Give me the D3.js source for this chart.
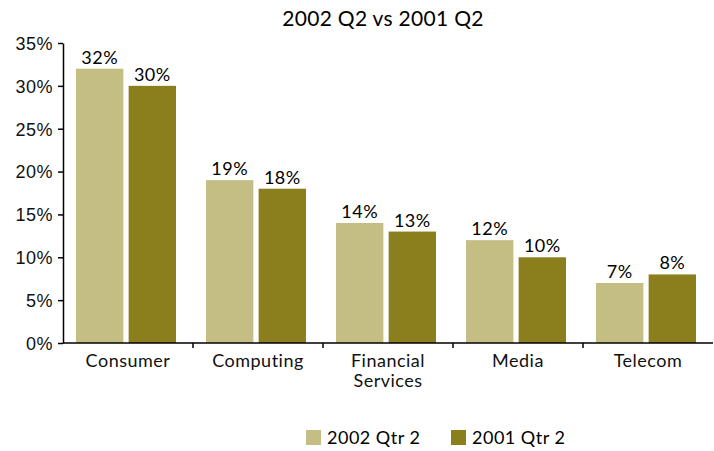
<!DOCTYPE html>
<html>
<head>
<meta charset="utf-8">
<script src="https://cdn.jsdelivr.net/npm/d3@7"></script>
<style>
  body { margin: 0; background: #fff; }
  svg { font-family: Lato, 'Noto Sans', sans-serif; }
  .axis path, .axis line { stroke: #000; stroke-width: 1.5; }
  .axis text { font-size: 18px; fill: #111; letter-spacing: 0.5px; }
  .val, .leg { font-size: 18px; letter-spacing: 0.5px; }
</style>
</head>
<body>
<div id="chart"></div>
<script>
var categories = ['Consumer', 'Computing', 'Financial Services', 'Media', 'Telecom']
var seriesNames = ['2002 Qtr 2', '2001 Qtr 2']
var q2002 = [32, 19, 14, 12, 7]
var q2001 = [30, 18, 13, 10, 8]
var yTicks = [0, 5, 10, 15, 20, 25, 30, 35]
var colors = ['#c5be84', '#8b7e1c']

var W = 714, H = 451
var margin = { top: 43, right: 1, bottom: 108, left: 63 }
var w = W - margin.left - margin.right
var h = H - margin.top - margin.bottom

var svg = d3.select('#chart').append('svg')
  .attr('width', W)
  .attr('height', H)

svg.append('text')
  .attr('x', 383)
  .attr('y', 26)
  .attr('text-anchor', 'middle')
  .style('font-size', '21px')
  .style('letter-spacing', '0.3px')
  .text('2002 Q2 vs 2001 Q2')

var g = svg.append('g')
  .attr('transform', 'translate(' + margin.left + ',' + margin.top + ')')

var x = d3.scaleBand().domain(categories).range([0, w])
var x1 = d3.scaleBand().domain(seriesNames).range([13, 113]).paddingInner(0.1)
var y = d3.scaleLinear().domain([0, 35]).range([h, 0])

var rows = categories.map(function (c, i) {
  return { cat: c, vals: [q2002[i], q2001[i]] }
})

var groups = g.selectAll('g.cat').data(rows).enter().append('g')
  .attr('class', 'cat')
  .attr('transform', function (d) { return 'translate(' + x(d.cat) + ',0)' })

groups.selectAll('rect').data(function (d) { return d.vals }).enter().append('rect')
  .attr('x', function (d, i) { return x1(seriesNames[i]) })
  .attr('y', function (d) { return y(d) })
  .attr('width', x1.bandwidth())
  .attr('height', function (d) { return h - y(d) })
  .attr('fill', function (d, i) { return colors[i] })

groups.selectAll('text.val').data(function (d) { return d.vals }).enter().append('text')
  .attr('class', 'val')
  .attr('x', function (d, i) { return x1(seriesNames[i]) + x1.bandwidth() / 2 })
  .attr('y', function (d) { return y(d) - 5 })
  .attr('text-anchor', 'middle')
  .text(function (d) { return d + '%' })

// y axis
var yAxis = g.append('g').attr('class', 'y axis')
  .call(d3.axisLeft(y).tickValues(yTicks).tickSize(5).tickSizeOuter(0)
    .tickFormat(function (d) { return d + '%' }))
yAxis.selectAll('text').attr('x', -10).attr('dy', '0.35em')

// x axis with separators at band edges
var xAxis = g.append('g').attr('class', 'x axis')
  .attr('transform', 'translate(0,' + h + ')')
xAxis.append('line').attr('x1', 0).attr('x2', w).attr('y1', 0).attr('y2', 0)
xAxis.selectAll('line.sep').data(categories.slice(1)).enter().append('line')
  .attr('class', 'sep')
  .attr('x1', function (d) { return x(d) })
  .attr('x2', function (d) { return x(d) })
  .attr('y1', 0).attr('y2', 5)
xAxis.selectAll('text.lbl').data(categories).enter().append('text')
  .attr('class', 'lbl')
  .attr('text-anchor', 'middle')
  .attr('x', function (d) { return x(d) + x.bandwidth() / 2 })
  .attr('y', 24)
  .each(function (d) {
    var words = d.split(' ')
    var t = d3.select(this)
    words.forEach(function (wd, i) {
      t.append('tspan')
        .attr('x', x(d) + x.bandwidth() / 2)
        .attr('dy', i === 0 ? 0 : 20)
        .text(wd)
    })
  })

// legend
var legend = svg.append('g').attr('transform', 'translate(306,430)')
var lx = [0, 145]
seriesNames.forEach(function (s, i) {
  var lg = legend.append('g').attr('transform', 'translate(' + lx[i] + ',0)')
  lg.append('rect').attr('width', 15).attr('height', 15).attr('fill', colors[i])
  lg.append('text').attr('class', 'leg').attr('x', 21).attr('y', 14).text(s)
})
</script>
</body>
</html>
